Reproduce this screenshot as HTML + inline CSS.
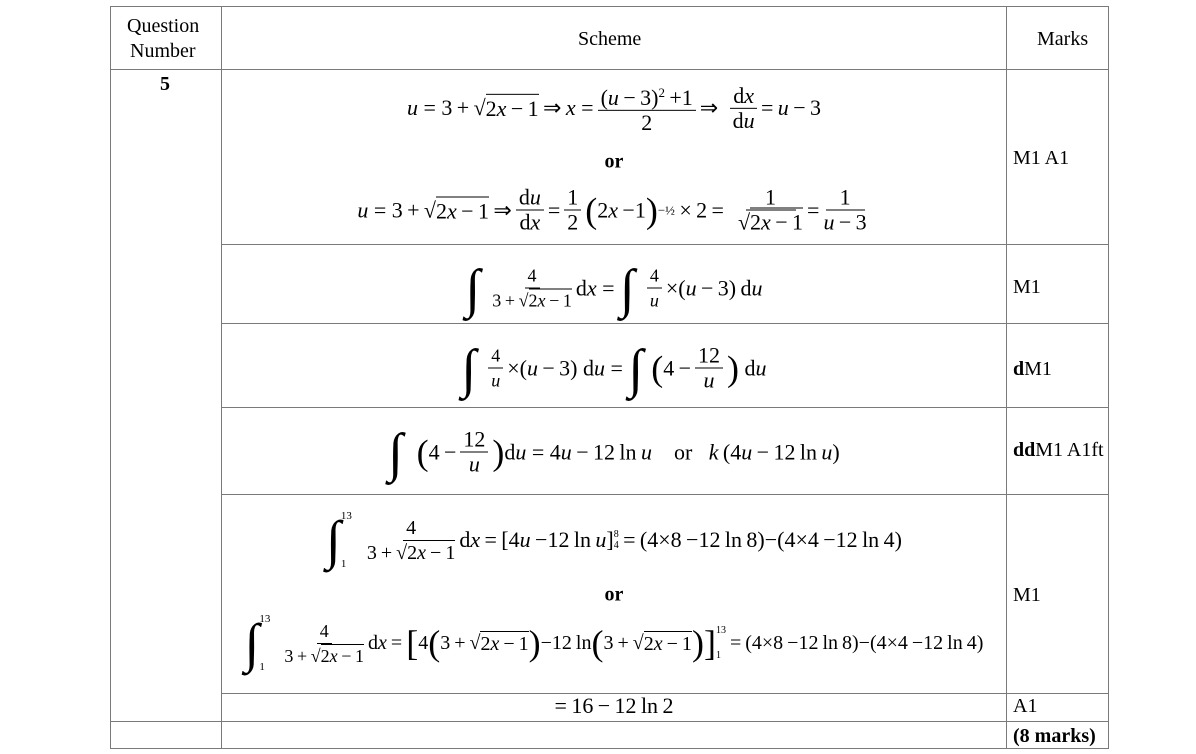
<!DOCTYPE html><html><head><meta charset="utf-8"><style>
body{margin:0;width:1196px;height:754px;background:#fff;position:relative;font-family:"Liberation Serif",serif;color:#000;overflow:hidden}
.l{position:absolute;background:#7a7a7a}
.t{position:absolute;font-size:20px;white-space:nowrap}
.m{position:absolute;left:222px;width:784px;display:flex;justify-content:center;align-items:center;font-size:22px;white-space:nowrap;transform:translateY(-50%)}
.f{display:inline-flex;flex-direction:column;align-items:center;vertical-align:middle;margin:0 4px}
.f>span:first-child{border-bottom:1.3px solid #000;padding:0 3px;line-height:24px}
.f>span:last-child{line-height:24px}
i{font-style:italic}
.sq{border-top:1.3px solid #000;padding-top:1px}
.int{font-size:54px;line-height:44px;margin-right:8px;font-weight:bold}
.big{font-size:36px;font-weight:100}
b{font-weight:bold}
</style></head><body>
<div class="l" style="left:110px;top:6px;width:1px;height:743px"></div>
<div class="l" style="left:221px;top:6px;width:1px;height:743px"></div>
<div class="l" style="left:1006px;top:6px;width:1px;height:743px"></div>
<div class="l" style="left:1108px;top:6px;width:1px;height:743px"></div>
<div class="l" style="left:110px;top:6px;width:999px;height:1px"></div>
<div class="l" style="left:110px;top:69px;width:999px;height:1px"></div>
<div class="l" style="left:221px;top:244px;width:888px;height:1px"></div>
<div class="l" style="left:221px;top:323px;width:888px;height:1px"></div>
<div class="l" style="left:221px;top:407px;width:888px;height:1px"></div>
<div class="l" style="left:221px;top:494px;width:888px;height:1px"></div>
<div class="l" style="left:221px;top:693px;width:888px;height:1px"></div>
<div class="l" style="left:110px;top:721px;width:999px;height:1px"></div>
<div class="l" style="left:110px;top:748px;width:999px;height:1px"></div>

<div class="t" style="left:127px;top:15px">Question</div>
<div class="t" style="left:130px;top:40px">Number</div>
<div class="t" style="left:578px;top:28px">Scheme</div>
<div class="t" style="left:1037px;top:28px">Marks</div>
<div class="t" style="left:160px;top:73px"><b>5</b></div>

<div class="m" style="top:108px"><i>u</i>&nbsp;=&nbsp;3&thinsp;+&thinsp;√<span class="sq">2<i>x</i>&thinsp;−&thinsp;1</span>&thinsp;⇒&thinsp;<i>x</i>&nbsp;=<span class="f"><span>(<i>u</i>&thinsp;−&thinsp;3)<sup style="font-size:13px">2</sup>&thinsp;+1</span><span>2</span></span>⇒<span class="f" style="margin-left:12px"><span>d<i>x</i></span><span>d<i>u</i></span></span>=&thinsp;<i>u</i>&thinsp;−&thinsp;3</div>
<div class="m" style="top:162px;font-size:20px"><b>or</b></div>
<div class="m" style="top:210px"><i>u</i>&nbsp;=&nbsp;3&thinsp;+&thinsp;√<span class="sq">2<i>x</i>&thinsp;−&thinsp;1</span>&thinsp;⇒<span class="f"><span>d<i>u</i></span><span>d<i>x</i></span></span>=<span class="f"><span>1</span><span>2</span></span><span class="big">(</span>2<i>x</i>&thinsp;−1<span class="big">)</span><sup style="font-size:13px">−½</sup>&thinsp;×&thinsp;2&thinsp;=<span class="f" style="margin-left:14px"><span>&nbsp;&nbsp;&nbsp;1&nbsp;&nbsp;&nbsp;</span><span>√<span class="sq">2<i>x</i>&thinsp;−&thinsp;1</span></span></span>=<span class="f"><span>&nbsp;&nbsp;1&nbsp;&nbsp;</span><span><i>u</i>&thinsp;−&thinsp;3</span></span></div>

<div class="m" style="top:288px"><span class="int">∫</span><span class="f" style="font-size:18px"><span>4</span><span>3&thinsp;+&thinsp;√<span class="sq">2<i>x</i>&thinsp;−&thinsp;1</span></span></span>d<i>x</i>&nbsp;=&nbsp;<span class="int">∫</span><span class="f" style="font-size:18px"><span>4</span><span><i>u</i></span></span>×(<i>u</i>&thinsp;−&thinsp;3)&thinsp;d<i>u</i></div>
<div class="m" style="top:368px"><span class="int">∫</span><span class="f" style="font-size:18px"><span>4</span><span><i>u</i></span></span>×(<i>u</i>&thinsp;−&thinsp;3)&nbsp;d<i>u</i>&nbsp;=&nbsp;<span class="int">∫</span><span class="big">(</span>4&thinsp;−<span class="f"><span>12</span><span><i>u</i></span></span><span class="big">)</span>&nbsp;d<i>u</i></div>
<div class="m" style="top:452px"><span class="int">∫</span>&nbsp;<span class="big">(</span>4&thinsp;−<span class="f"><span>12</span><span><i>u</i></span></span><span class="big">)</span>d<i>u</i>&nbsp;=&nbsp;4<i>u</i>&thinsp;−&thinsp;12&thinsp;ln&thinsp;<i>u</i>&nbsp;&nbsp;&nbsp;&nbsp;or&nbsp;&nbsp;&nbsp;<i>k</i>&thinsp;(4<i>u</i>&thinsp;−&thinsp;12&thinsp;ln&thinsp;<i>u</i>)</div>

<div class="m" style="top:540px"><span class="int">∫</span><span style="display:inline-flex;flex-direction:column;font-size:11px;justify-content:space-between;height:60px;margin-left:-8px"><span>13</span><span>1</span></span>&nbsp;&nbsp;<span class="f" style="font-size:20px"><span>4</span><span>3&thinsp;+&thinsp;√<span class="sq">2<i>x</i>&thinsp;−&thinsp;1</span></span></span>d<i>x</i>&thinsp;=&thinsp;[4<i>u</i>&thinsp;−12&thinsp;ln&thinsp;<i>u</i>]<span style="display:inline-flex;flex-direction:column;font-size:10px"><span>8</span><span>4</span></span>&thinsp;=&thinsp;(4×8&thinsp;−12&thinsp;ln&thinsp;8)−(4×4&thinsp;−12&thinsp;ln&thinsp;4)</div>
<div class="m" style="top:595px;font-size:20px"><b>or</b></div>
<div class="m" style="top:643px;font-size:20px"><span class="int">∫</span><span style="display:inline-flex;flex-direction:column;font-size:11px;justify-content:space-between;height:60px;margin-left:-8px"><span>13</span><span>1</span></span>&nbsp;&nbsp;<span class="f" style="font-size:18px"><span>4</span><span>3&thinsp;+&thinsp;√<span class="sq">2<i>x</i>&thinsp;−&thinsp;1</span></span></span>d<i>x</i>&thinsp;=&thinsp;<span class="big">[</span>4<span class="big">(</span>3&thinsp;+&thinsp;√<span class="sq">2<i>x</i>&thinsp;−&thinsp;1</span><span class="big">)</span>−12&thinsp;ln<span class="big">(</span>3&thinsp;+&thinsp;√<span class="sq">2<i>x</i>&thinsp;−&thinsp;1</span><span class="big">)</span><span class="big">]</span><span style="display:inline-flex;flex-direction:column;font-size:10px;height:36px;justify-content:space-between"><span>13</span><span>1</span></span>&thinsp;=&thinsp;(4×8&thinsp;−12&thinsp;ln&thinsp;8)−(4×4&thinsp;−12&thinsp;ln&thinsp;4)</div>

<div class="m" style="top:706px">=&thinsp;16&thinsp;−&thinsp;12&thinsp;ln&thinsp;2</div>

<div class="t" style="left:1013px;top:147px">M1 A1</div>
<div class="t" style="left:1013px;top:276px">M1</div>
<div class="t" style="left:1013px;top:358px"><b>d</b>M1</div>
<div class="t" style="left:1013px;top:439px"><b>dd</b>M1 A1ft</div>
<div class="t" style="left:1013px;top:584px">M1</div>
<div class="t" style="left:1013px;top:695px">A1</div>
<div class="t" style="left:1013px;top:725px"><b>(8 marks)</b></div>
</body></html>
